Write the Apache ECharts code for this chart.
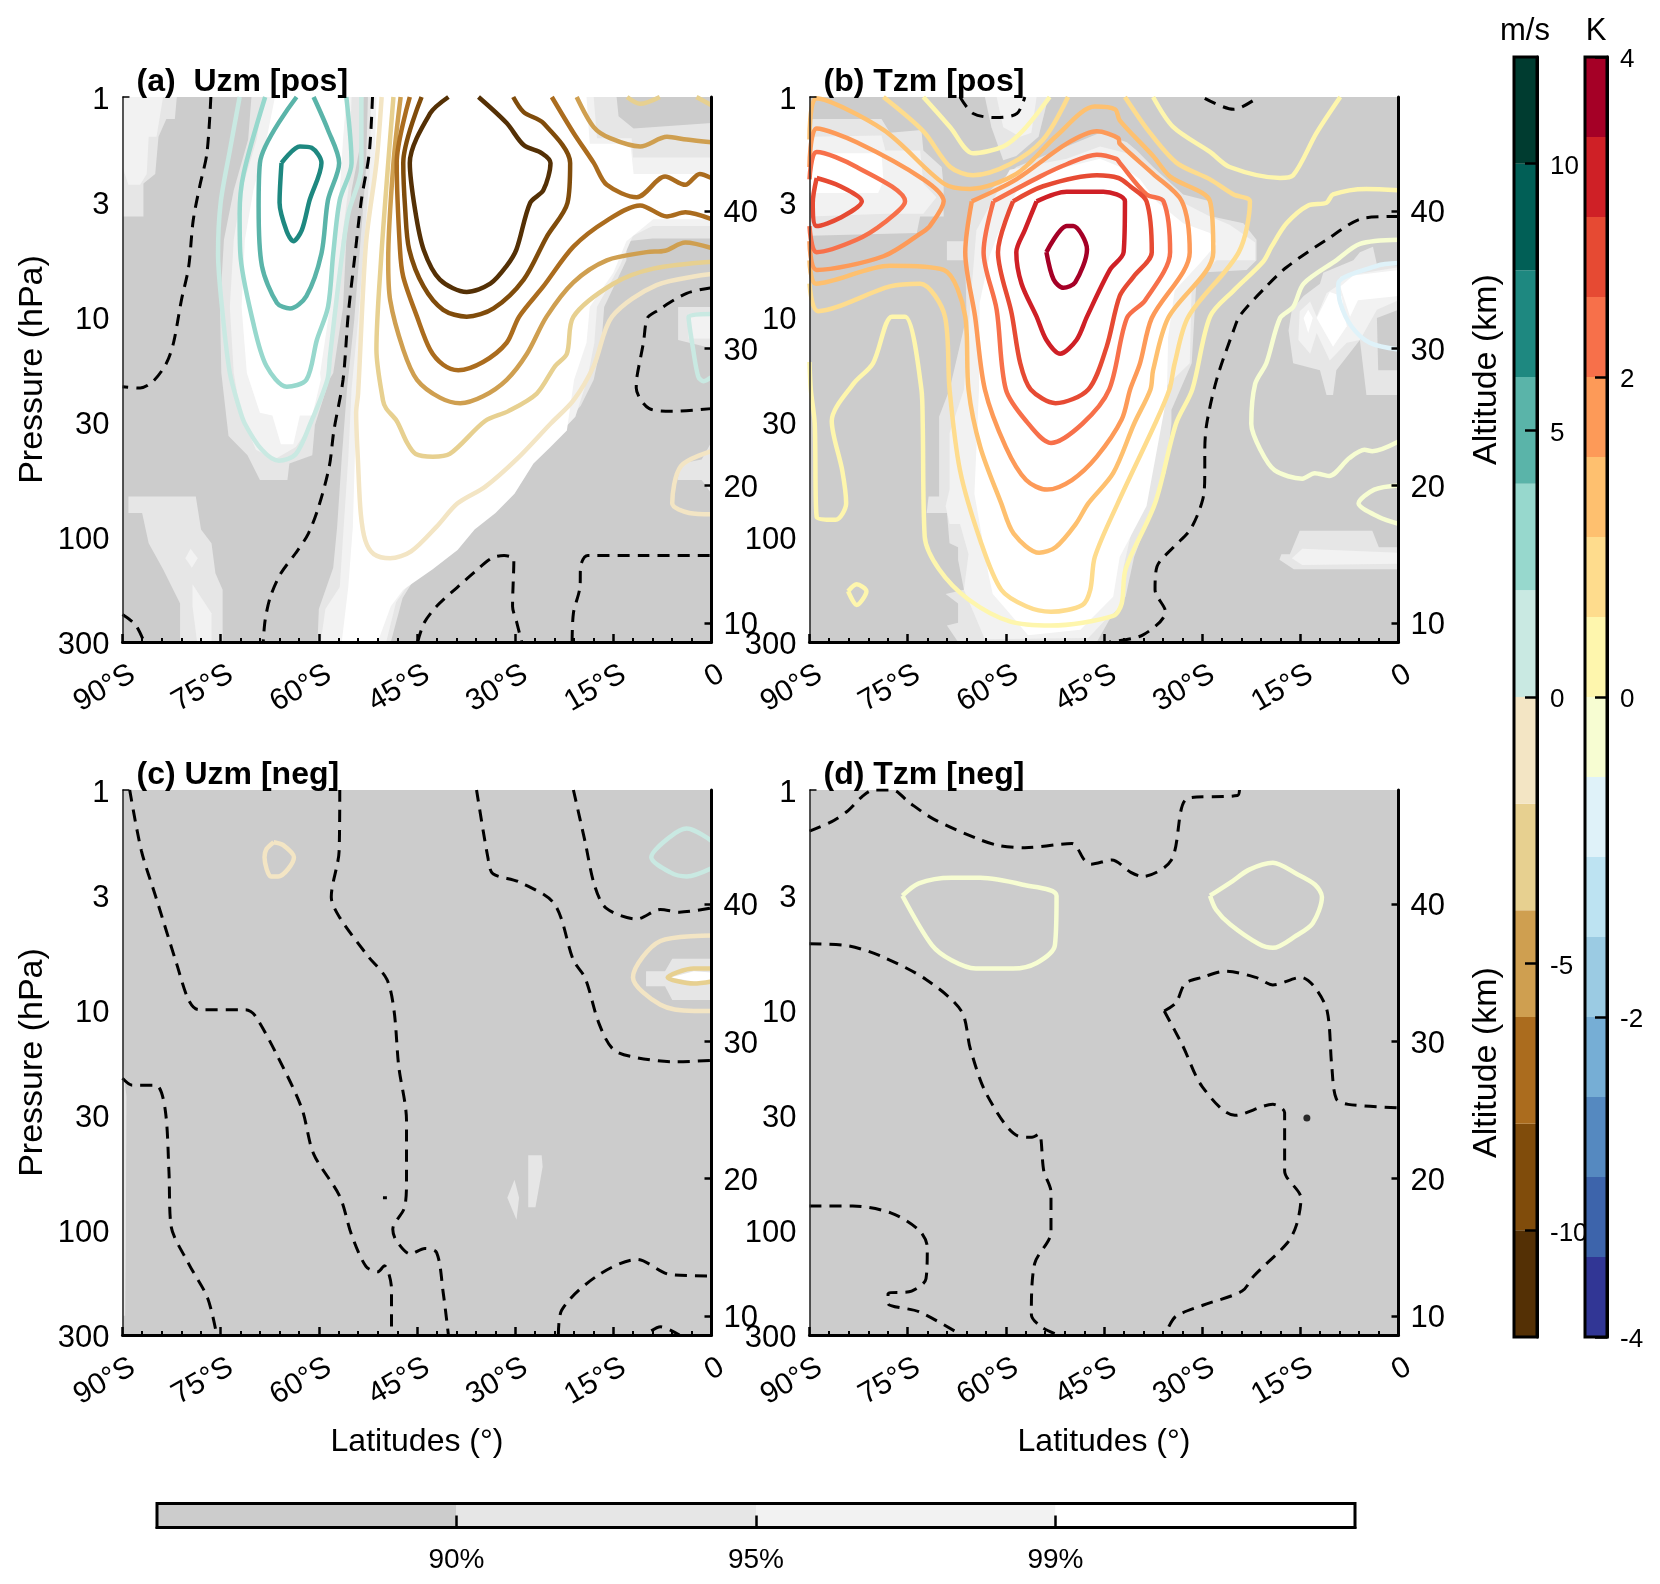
<!DOCTYPE html>
<html><head><meta charset="utf-8">
<style>html,body{margin:0;padding:0;background:#fff}#c{width:1660px;height:1584px}</style>
<script src="https://cdn.jsdelivr.net/npm/echarts@6/dist/echarts.min.js"></script>
</head><body><div id="c"></div>
<script>
// ---------- scales and tick labels ----------
const pressureTicks=[1,3,10,30,100,300];
const altitudeTicks=[10,20,30,40];
const latTickStep=15;
const windBounds=[-12,-10,-8,-6,-4,-2,0,2,4,6,8,10,12];
const windColors=['#543005','#804c0b','#ab6c1e','#cf9f50','#e7d090','#f3e5c4','#c9e9e2','#97d8cd','#5ab4a9','#1e8880','#015f56','#003c30'];
const windTicks=[-10,-5,0,5,10];
const tempBounds=[-4,-3.5,-3,-2.5,-2,-1.5,-1,-0.5,0,0.5,1,1.5,2,2.5,3,3.5,4];
const tempColors=['#313695','#3d64ab','#5589c0','#76aed5','#9bcbe3','#bde3f2','#dff2f9','#f7fdd2','#fef6ad','#fedc8d','#fec06f','#fd9a58','#f7704a','#e64a33','#cf2026','#a50026'];
const tempTicks=[-4,-2,0,2,4];
const sigColors=['#cccccc','#e6e6e6','#f2f2f2','#ffffff'];
const sigLabels=['90%','95%','99%'];

// ---------- panel (a) contours [lat, km] ----------
const aZero1=[[-76.5,48.3],[-77.1,44.2],[-78.2,41.8],[-79.2,39.3],[-79.9,35.9],[-81,33.5],[-82.2,30.4],[-83.3,28.9],[-85.3,27.6],[-87.3,27.1],[-90,27.2]];
const aZero2=[[-51.8,48.3],[-52.3,44.2],[-53.5,40.8],[-54.5,36.7],[-55.5,32.5],[-56.3,27.7],[-57.7,24],[-58.4,21.4],[-60,18.5],[-61.6,16.5],[-63.5,15.1],[-65.8,13.6],[-67.4,11.9],[-68.2,10.2],[-68.5,8.6]];
const aZero3=[[-90,10.6],[-88,9.85],[-86.7,8.6]];
const aZero4=[[-44.9,8.6],[-43.9,10],[-42,11.2],[-38.8,12.6],[-36.2,13.7],[-33.6,14.7],[-31.7,14.9],[-30.2,14.6],[-30.4,11.2],[-29.8,10.1],[-29,8.6]];
const aZero5=[[-21.3,8.6],[-21.1,10.7],[-20.1,12.6],[-20,14.1],[-18.9,14.9],[-9.9,14.9],[0,14.9]];
const aZero6=[[0,34.4],[-3.8,34],[-8.4,32.7],[-9.8,32.2],[-10.4,30.4],[-11.4,27.9],[-11.5,27.1],[-9.5,25.6],[-6,25.4],[0,25.6]];
const aPos1=[[-72.1,48.3],[-73.6,44.4],[-75,40.6],[-75.4,36.9],[-74.7,32.5],[-73.6,28.2],[-72.2,25.7],[-71.3,24.5],[-68.7,22.6],[-66.1,21.8],[-63.5,22.3],[-61.3,24.5],[-58.7,27.7],[-58.3,29.4],[-56.8,35.5],[-55.5,39.8],[-53.5,43.2],[-53.5,48.3]];
const aPos1b=[[0,32.5],[-3.5,32.3],[-2.8,29.9],[-2,27.9],[-1.2,27.6],[0,27.9]];
const aPos3=[[-68.2,48.3],[-71.5,42.7],[-72.1,39.8],[-72,36.9],[-70,31.8],[-68,28.7],[-64.9,27.2],[-61.9,27.7],[-60.3,30.6],[-58.6,33],[-57.8,36.9],[-56.8,40.8],[-55,43.5],[-55.8,48.3]];
const aPos5=[[-63.4,48.3],[-69,43.5],[-69.2,40.3],[-68.7,36],[-66.4,33.3],[-64.4,32.9],[-61.9,33.8],[-59.6,36.9],[-58.6,40.8],[-56.9,43.5],[-58.6,45.9],[-60.8,48.3]];
const aPos7=[[-65.7,43.5],[-62.9,44.7],[-61.1,44.6],[-59.6,43.5],[-61.4,40.8],[-62.6,38.6],[-63.9,37.8],[-64.9,38.5],[-66,40.6],[-65.7,43.5]];
const aNeg11=[[-40.2,48.3],[-43,47.1],[-46.1,43.5],[-45.3,40.1],[-44,37.2],[-41.5,35],[-37.4,34.1],[-33.8,34.7],[-31.3,36],[-29.8,37.2],[-27.7,40.6],[-25.7,41.5],[-24.6,43.5],[-25.9,44.2],[-28.7,44.8],[-31.3,46.4],[-35.6,48.3]];
const aNeg9=[[-44.3,48.3],[-47.1,43.5],[-46.8,40.1],[-46.2,37.2],[-44,34.5],[-41,32.8],[-37.4,32.3],[-33.3,32.9],[-28.7,35],[-25.2,38.1],[-22,40.6],[-21.6,43.5],[-25.7,46.4],[-28.7,47.2],[-30.3,48.3]];
const aNeg7a=[[-46.1,48.3],[-48.1,43.5],[-47.6,37.2],[-47.1,35.2],[-45,32.3],[-43,29.9],[-41,28.8],[-38.7,28.4],[-34.9,29],[-31.3,30.4],[-29.4,32.3],[-25.7,34.5],[-21.1,37.4],[-16,39.3],[-10.9,40.4],[-6.8,39.6],[-4,39.9],[0,39.4]];
const aNeg7b=[[-24.4,48.3],[-21.1,45.7],[-18,43.5],[-16,41.9],[-11.4,41],[-7.1,42.5],[-4,41.9],[-1.8,42.7],[0,42.4]];
const aNeg5a=[[-47.5,48.3],[-48.6,43.5],[-49.4,36.4],[-49.1,33.5],[-47.1,29.9],[-45,27.7],[-41.5,26.4],[-38.4,26],[-34.9,26.5],[-31.3,27.7],[-28.2,29.6],[-25.2,32.3],[-21.1,34.8],[-16,36.4],[-9.9,37],[-7.1,37.1],[-4,37.7],[0,37.3]];
const aNeg5b=[[-20.6,48.3],[-18,46.1],[-15.5,45.3],[-10.9,44.7],[-6.8,45.4],[-3.8,45.2],[0,45]];
const aNeg3a=[[-48.6,48.3],[-49.4,43.5],[-50.5,36.4],[-51.2,29.9],[-50.2,26.2],[-49.7,25.6],[-48.1,24.7],[-46.5,23.1],[-45.2,22.3],[-42.6,22.1],[-40,22.3],[-34.6,24.7],[-31.1,25.4],[-26.7,26.7],[-23.9,28.7],[-22.1,29.6],[-21.1,32.3],[-15,34.7],[-8.9,35.8],[0,36.3]];
const aNeg3b=[[-12.9,48.3],[-10.9,47.8],[-7.9,48.3]];
const aNeg3c=[[-2.3,48.3],[0,47.7]];
const aNeg1a=[[-50.4,48.3],[-51.2,43.5],[-52.8,37.6],[-54,26.7],[-54.3,25.3],[-54,21.6],[-53.6,18],[-52.9,16],[-51.6,15],[-49.1,14.7],[-45.9,15.2],[-42,17],[-38.8,18.7],[-34.6,19.9],[-29.8,21.9],[-24.6,24.5],[-21.1,26.2],[-18,28.7],[-15.2,32.3],[-8.4,34.6],[0,35.4]];
const aNeg1b=[[0,22.5],[-4.7,21.4],[-6,18.7],[-3.4,18],[0,17.9]];

// ---------- panel (a) significance regions ----------
const aSig90Main=[[-52.5,48.3],[-52.8,43],[-53.6,38],[-54.6,32],[-55.7,27],[-56.5,22],[-57.2,17],[-57.8,14],[-60,11],[-60.2,8.6],[-49,8.6],[-47.2,11.8],[-45,13.5],[-40.5,15.1],[-36.8,16.6],[-34,18.2],[-31,19.6],[-28,21.2],[-25.2,23],[-22.6,24.4],[-20,25.8],[-18,27.7],[-16.8,30.4],[-16.4,33],[-13,36.4],[-13,37.8],[-9,38],[0,38],[0,46.4],[-11.9,46],[-14.2,46.9],[-14.5,48.3]];
const aSig95Main=[[-52,48.3],[-52.2,43],[-53,38],[-54,32],[-55,27],[-55.5,22],[-56.2,17],[-56.8,12.6],[-59,11],[-59.7,8.6],[-49.7,8.6],[-48.2,11.5],[-46,13],[-41.5,14.6],[-37.8,16],[-35,17.5],[-32,18.8],[-29,20.4],[-26.2,22.4],[-23.6,23.6],[-20.8,25],[-19,27.7],[-17.9,30.4],[-17.5,33],[-14,36],[-12,38.2],[-9,38.9],[0,38.9],[0,43.9],[-12,43.9],[-12.2,45.3],[-17.5,45.3],[-18,48.3]];
const aSig99Main=[[-51.2,48.3],[-51.5,43],[-52.5,38],[-53.5,32],[-54,27.7],[-54.5,22],[-54.8,17],[-55.5,12.6],[-56.5,8.6],[-51,8.6],[-49,11.2],[-47.1,12.4],[-42.6,13.9],[-38.8,15.3],[-36.2,16.8],[-33,18],[-30.1,19.4],[-27.2,21.6],[-24.6,22.8],[-22.1,24],[-21,27.7],[-19.1,30.4],[-18.6,33],[-15,35.5],[-13,37.8],[-8.9,39.4],[0,39.4],[0,42.7],[-11.9,42.7],[-12.4,44.9],[-18.6,44.9],[-19.1,48.3]];
const aSig90Jet=[[-70.3,48.3],[-70.8,45.2],[-73,41.5],[-74.5,37.9],[-75.1,33],[-74.9,28.2],[-73.8,23.6],[-70.9,22.2],[-69,20.4],[-64.8,20.4],[-64.5,21.6],[-61,22.2],[-60.6,24.4],[-58.4,27.7],[-57.8,28.2],[-56.3,33],[-55.8,37.9],[-55,41.5],[-53.5,45.2],[-53.2,48.3]];
const aSig95Jet=[[-68.5,48.3],[-69.5,45.2],[-71.8,41.5],[-73,37.9],[-73.6,33],[-73,28.2],[-71.9,25.1],[-69.6,22.6],[-66.8,21.9],[-63.5,22.8],[-61.3,24.4],[-58.7,27.7],[-58.5,28.2],[-57.3,33],[-56.5,37.9],[-55.5,41.5],[-55.2,45.2],[-55,48.3]];
const aSig99Jet=[[-66.7,48.3],[-68,45.2],[-70,41.5],[-71.3,37.9],[-71.8,33],[-71,28.2],[-69,25.3],[-67.1,25.1],[-65.8,23],[-63.9,23],[-62.9,25.1],[-61,25.1],[-59.7,27.7],[-59.8,28.2],[-58.3,33],[-57.8,37.9],[-56.8,41.5],[-56.3,45.2],[-55.8,48.3]];
const aSig90Corner=[[-90,48.3],[-81.7,48.3],[-82,46.7],[-83.3,46.7],[-84.5,45.4],[-85,42.7],[-86.8,42],[-86.8,39.6],[-90,39.6]];
const aSig95Corner=[[-90,48.3],[-83.8,48.3],[-84.8,45.4],[-86,45.4],[-86.3,42.7],[-87.3,41.9],[-89.1,41.9],[-90,43.2]];
const aSig90Low=[[-89.1,19.2],[-78.8,19.2],[-78,16.8],[-76.4,15.8],[-75.8,13.6],[-74.7,12.4],[-74.7,8.6],[-81.2,8.6],[-81.2,11.4],[-83.8,13.9],[-86,15.8],[-87,18],[-89.1,18]];
const aSig95Low=[[-79.3,12.8],[-76.4,10.7],[-76.4,8.6],[-78.6,8.6],[-79.3,11.2]];
const aSig95Dot=[[-80.4,14.7],[-79.6,15.4],[-78.5,14.7],[-79.4,14]];
const aSig90Edge1=[[-5.1,33],[0,33],[0,30],[-5.1,30.6]];
const aSig95Edge1=[[-3.5,32.5],[0,32.5],[0,30.7],[-3.5,30.7]];
const aSig90Edge2=[[-4.7,21.6],[-1.5,21.9],[-0.2,23],[0,23],[0,19.4],[-1.5,20.4],[-5.2,20.4]];

// ---------- panel (b) contours ----------
const bT375=[[-53.8,37],[-50.7,38.9],[-49.7,38.9],[-47.6,37.2],[-49.4,34.8],[-51.2,34.4],[-52.7,35],[-53.8,37]];
const bT325=[[-55.3,40.7],[-50.7,41.4],[-45.1,41.4],[-41.8,40.7],[-42,37],[-44.1,35.7],[-47.6,32.3],[-49.2,30.6],[-51.7,29.6],[-53.8,30.6],[-55.3,32.3],[-57.6,34.7],[-58.4,37],[-57.1,38.6],[-55.3,40.7]];
const bT275=[[-58.9,40.7],[-54.3,41.8],[-46.1,42.6],[-42.8,42.4],[-41,41.8],[-38.5,40.7],[-37.7,37],[-40.5,35.2],[-42.6,33.8],[-44.6,30.1],[-47.4,27],[-52.4,26],[-56.2,27],[-57.8,28.9],[-59.1,32.5],[-61.2,37],[-58.9,40.7]];
const bT275Lobe=[[-88.9,42.4],[-85.3,41.8],[-82,40.7],[-85.3,39.5],[-88.9,38.9],[-89.5,40.6],[-88.9,42.4]];
const bT225=[[-61.9,40.7],[-54.8,42.5],[-50.7,43.4],[-46.1,44.1],[-43.1,43.8],[-42.6,43.5],[-38.5,41.2],[-35.9,40.7],[-34.9,37],[-38.7,33.5],[-41.5,32.2],[-44.2,27],[-48.3,24.5],[-53.1,23.1],[-56.9,24.7],[-60,27],[-61.4,32.8],[-63.4,37],[-61.9,40.7]];
const bT225Lobe=[[-90,42.3],[-88.9,44.3],[-82.8,43.2],[-75.4,40.7],[-78.7,39.1],[-82.8,37.9],[-88.9,37],[-90,38.9]];
const bT175=[[-65.2,40.7],[-58.4,42.3],[-50.7,44.9],[-46.1,45.8],[-42.8,45.3],[-42.6,44.9],[-37.5,42.7],[-33.1,40.7],[-31.9,37],[-37.7,32.2],[-39.5,28.9],[-41,27],[-42.3,24.8],[-46.1,22.1],[-49.9,20.4],[-53.7,19.7],[-56.9,20.4],[-60,22.8],[-63.2,27],[-64.7,32.3],[-66.2,37],[-65.2,40.7]];
const bT175Lobe=[[-90,43.2],[-88.9,46],[-82.8,45],[-72.6,42.3],[-69.5,40.7],[-71.6,38.9],[-72.6,38.5],[-78.7,36.7],[-88.9,35.7],[-90,37.8]];
const bT125=[[-90,45.2],[-89,48.2],[-78.7,45.9],[-69.5,42],[-65.5,41.6],[-58.4,42.7],[-52.2,45.5],[-46.4,47.6],[-43.3,47.4],[-42.6,46.6],[-37.5,44],[-34.9,42.5],[-28.8,40.7],[-28.3,37],[-35.2,32.2],[-37.5,28.4],[-37.9,27],[-40.4,24.5],[-43.6,20.9],[-47.4,18.7],[-49.3,17.2],[-52.4,15.5],[-54.9,15.1],[-58.8,16.5],[-60.7,18.7],[-63.9,22.8],[-65.7,27],[-66.2,32.3],[-69.5,35.7],[-77.7,36],[-89,34.7],[-90,36.4]];
const bT075a=[[-78.7,48.3],[-72.6,45.8],[-68.5,43.2],[-65,42.6],[-59.4,43.4],[-54.3,45.2],[-50.5,48.3]];
const bT075b=[[-41.8,48.3],[-38,45.7],[-33.9,43.5],[-28.8,42.3],[-25.2,41.2],[-22.7,40.7],[-24.4,37],[-32.1,32.3],[-34.2,28.9],[-35,27],[-37.2,24.5],[-42.9,18.7],[-46.4,14.8],[-47.1,12.4],[-48.3,11.3],[-53.1,10.8],[-56.9,11.2],[-60.7,12.4],[-63.9,16],[-67,21.1],[-68.6,27],[-69.3,32.3],[-73.1,34.7],[-77.7,34.5],[-88.7,32.7],[-90,34.7]];
const bT025a=[[-72.6,48.3],[-68.5,46.1],[-65,44.2],[-60.4,44.7],[-57.3,45.9],[-53.3,48.3]];
const bT025b=[[-37.5,48.3],[-34.4,46.1],[-28.8,44.3],[-25.8,43.2],[-18.1,42.4],[-16.1,42.6],[-12.5,45.7],[-8.9,48.3]];
const bT025c=[[0,41.5],[-4.9,41.6],[-10,41.2],[-11,40.6],[-13.8,40.4],[-17.1,39.1],[-19.4,37.4],[-20.7,36.3],[-25.2,34.2],[-28.8,32.3],[-31.5,27],[-34,24.5],[-37.2,18.7],[-41.7,13.9],[-42.3,11.4],[-43.6,10.5],[-53.1,9.8],[-59.4,10.1],[-65.7,11.7],[-70.2,13.9],[-72.4,16.3],[-72.7,24.5],[-72.9,27],[-75.4,32.3],[-77.4,32.3],[-80.3,28.9],[-83.3,27.4],[-86.6,24.7],[-85,21.1],[-84.4,18.7],[-86,17.5],[-88.9,17.7],[-89.2,24.5],[-89.8,27],[-90,29]];
const bT025d=[[-84.1,12.3],[-82.8,12.8],[-81.3,12.3],[-82.8,11.3],[-84.1,12.3]];
const bTm025a=[[0,37.9],[-5.9,37.6],[-9.5,36.4],[-14.5,34.7],[-16.1,33],[-18.1,32.2],[-20.2,28.9],[-21.9,27.4],[-22.5,24.5],[-21.1,22.6],[-18.9,21.1],[-14.7,20.5],[-12.8,20.9],[-10.6,20.7],[-7.5,22],[-5.2,22.6],[-4,22.5],[0,23.2]];
const bTm025b=[[0,20],[-3.7,19.7],[-6.1,18.7],[-3,17.7],[0,17.2]];
const bTm075=[[0,36.2],[-3.3,36],[-9.2,34.7],[-8.9,33.3],[-7.2,31.6],[-4.4,30.4],[0,29.9]];
const bZero1=[[-67,48.3],[-65,47.1],[-61.4,46.8],[-58.3,47.1],[-57.1,48.3]];
const bZero2=[[-29.6,48.2],[-25.2,47.4],[-21.4,48.3]];
const bZero3=[[0,39.6],[-5.1,39.5],[-11,37.9],[-17.1,35.9],[-20.2,34.5],[-24.2,32.4],[-25.2,31.3],[-27.8,27.7],[-29.3,24.5],[-29.6,22.6],[-29.6,20.9],[-29.9,19],[-31.8,16.8],[-34.4,15.5],[-36.9,14.1],[-37.2,12.4],[-35.6,10.8],[-39.1,9.1],[-44.2,8.6]];

// ---------- panel (b) significance regions ----------
const bSig90Top=[[-63.2,48.3],[-62.2,46.1],[-60.4,43.7],[-58.4,44],[-55,45.4],[-53.5,48.3]];
const bSig95Top=[[-61.4,48.3],[-60.4,46.1],[-57.8,45.4],[-56.1,45.7],[-55.3,48.3]];
const bSig90Lobe=[[-90,46.7],[-79,46.7],[-77.7,45.7],[-72.9,45.9],[-72.6,44.4],[-69.8,43.2],[-69.5,41.8],[-69.5,39.6],[-73.1,39.6],[-73.6,38.4],[-90,38.2]];
const bSig95Lobe=[[-90,45.4],[-79,45.5],[-78.4,44.4],[-73.1,44.4],[-72.6,42],[-70.6,41],[-72.6,39.8],[-78.2,39.8],[-90,39.6]];
const bSig99Lobe=[[-90,44.2],[-79,44.2],[-78.7,42.2],[-79.5,41.3],[-90,41.3]];
const bSig90Main=[[-65.2,40.7],[-62.4,41.5],[-58.4,43.2],[-50.7,44.7],[-45.6,45.7],[-41.5,45],[-40,44.4],[-37.5,43.2],[-32.9,41.2],[-28.8,40.7],[-28.5,39.6],[-23.7,39.1],[-21.7,37.9],[-21.7,36.4],[-23.2,35.7],[-30.8,35.5],[-31.6,28.9],[-34.7,25.5],[-34.7,24.5],[-35.6,20.9],[-40.4,14.8],[-41.7,11.9],[-44.2,10.2],[-46.1,8.6],[-67.3,8.6],[-69,9.8],[-67.3,10],[-67.3,11.4],[-69.2,12.1],[-66.4,12.4],[-67.3,14.6],[-67.3,15.5],[-68.6,15.8],[-69,18],[-72.1,18],[-71.8,19.2],[-70.2,19.2],[-70.2,25],[-68.6,27],[-66,32.3],[-66.2,36.4],[-69,36.4],[-69,37.8],[-66.2,37.8]];
const bSig95Main=[[-62.9,40],[-59.4,43],[-50.7,43.8],[-45.6,44.7],[-41.5,44.2],[-39.5,43.5],[-36,41.9],[-32.9,40.6],[-28.8,39.6],[-25.8,39],[-21.9,37.7],[-21.9,36.4],[-27.8,36.4],[-31.6,34.5],[-31.9,28.9],[-36,27],[-37.6,23.3],[-42,14.1],[-42.3,11.2],[-44.8,10.2],[-47.4,8.9],[-63.2,8.8],[-66.4,12.4],[-65.7,15],[-67,17.2],[-68.6,17.2],[-69.2,18.5],[-68.6,19.7],[-68.6,23.8],[-66.4,27],[-66,29.6],[-65.2,34.5],[-64.5,38.6]];
const bSig99Main=[[-60.4,39.3],[-57.8,42],[-50.7,43.2],[-45.6,43.8],[-41.5,43],[-39.5,42.3],[-37,40.7],[-32.9,39.1],[-28.8,38.4],[-27.8,37.6],[-30.3,36.2],[-34.2,34.2],[-35.2,30.8],[-35.4,26.5],[-38.5,18.5],[-42.6,14.8],[-43.6,11.9],[-48.6,9.5],[-56.6,9.1],[-60,11],[-62,12.1],[-62.6,13.4],[-64.8,19.4],[-64.1,27],[-64,33.3],[-62.5,36.7]];
const bSig90Right=[[-16.3,32.8],[-14.5,33.8],[-12,34.7],[-11.5,35.5],[-6.9,36.4],[-5.9,37],[-3.9,37.4],[-3.3,36.1],[0,36],[0,32.8],[-3.3,32.2],[-3.1,28.4],[0,28.4],[0,26.6],[-4.9,26.6],[-5.9,30.6],[-9.5,28.4],[-10,26.6],[-11,26.6],[-12,28.4],[-16.1,28.9],[-16.8,31.3]];
const bSig95Right=[[-15.1,32.7],[-13.5,33.4],[-12.5,32.3],[-11,34],[-9.5,34.5],[-8.9,35.2],[0,35.9],[0,33.5],[-3.3,32.8],[-5.9,30.6],[-7.9,30.4],[-10.5,29.1],[-12.5,31.1],[-13.5,29.6],[-15.3,30.6]];
const bSig99Right1=[[-14.5,32.2],[-13.8,32.8],[-13.1,32.2],[-13.8,31.1]];
const bSig99Right2=[[-12.5,32.2],[-10.5,34.1],[-8.7,33.8],[-7.9,31.6],[-10,30.1],[-11.2,31.1]];
const bSig99Right3=[[-8.9,34.5],[-6.9,35.3],[0,35.7],[0,33.8],[-6.2,33.5],[-7.4,32.3]];
const bSig90Low=[[-15.1,16.7],[-4,16.7],[-3,15.5],[0,15.5],[0,13.9],[-16,13.9],[-18.2,14.6],[-17.9,15],[-16.6,15]];
const bSig95Low=[[-16.3,14.7],[-14.7,15.4],[0,15.1],[0,14.3],[-14.7,14.2]];

// ---------- panel (c) ----------
const cZero1=[[-88.9,48.3],[-87.1,43.85],[-84.9,40.5],[-81.7,35.6],[-79.9,33],[-78.4,32.3],[-71.2,32.3],[-69.8,31.9],[-66.2,28.8],[-62.6,25.1],[-60.8,21.8],[-56.8,18.7],[-55,15.9],[-52.8,13.6],[-51,13.2],[-50,13.65],[-48.9,12],[-48.9,8.6]];
const cZero2=[[-90,27.3],[-88.5,26.8],[-84.9,26.8],[-83.5,25.1],[-82.9,20.5],[-82.6,16.6],[-79.9,13.8],[-77,11.3],[-75.6,8.6]];
const cZero3=[[-56.8,48.3],[-56.9,43.85],[-58.1,40.5],[-56.8,39],[-52.5,36.2],[-49.6,34.5],[-48.5,32.2],[-47.8,28.2],[-46.6,24.2],[-46.6,19.9],[-46.9,17.9],[-48.7,16.3],[-48.2,15.5],[-46,14.5],[-43.8,14.9],[-42,14.6],[-41,11.7],[-40.2,8.6]];
const cZero4=[[-35.9,48.3],[-34.1,43.2],[-33.4,42.2],[-29.4,41.6],[-24,40],[-21.1,35.9],[-19.3,34.6],[-17.2,31.3],[-15,29.4],[-11.4,28.8],[-5.6,28.5],[0,28.6]];
const cZero5=[[-21.1,48.3],[-19.3,44.5],[-17.9,41.4],[-16.1,39.7],[-11.4,38.9],[-7.8,39.6],[-4.9,39.4],[0,39.7]];
const cZero6=[[-23.4,8.6],[-22.9,10.4],[-17.5,12.9],[-11.4,14.1],[-6.3,13],[0,12.9]];
const cZero7=[[-9.2,8.9],[-7.8,9.2],[-4.9,8.6]];
const cZero8=[[-50.2,18.6],[-49.6,18.6]];
const cNeg1a=[[-66.9,44.5],[-65.5,44.3],[-63.8,43.4],[-66.2,42],[-67.3,42],[-68.3,43.4],[-68,44],[-66.9,44.5]];
const cPos1=[[0,44.6],[-3.8,45.5],[-6.3,44.9],[-9.2,43.4],[-6.3,42.3],[-3.8,42],[0,42.6]];
const cNeg1b=[[0,37.7],[-7.8,37.3],[-12,34.65],[-7.8,32.65],[-2.7,32.2],[0,32.2]];
const cNeg3=[[0,35.3],[-2.7,35.3],[-6.7,34.65],[-2.7,34.2],[0,34.35]];
const cSig90a=[[-10,35.1],[-7.1,35.1],[-6,36],[0,36],[0,33],[-6,33],[-7.1,34],[-10,34]];
const cSig99a=[[-6.3,34.65],[-2.7,35.1],[0,35],[0,34.4],[-2.7,34.35]];
const cSig90b=[[-28,21.7],[-25.95,21.7],[-25.8,20.85],[-26.9,17.9],[-28,17.9]];
const cSig90c=[[-30.1,19.9],[-29.4,18.6],[-29.8,17],[-31.2,18.6]];
const cSig90d=[[-90,28.5],[-89.4,26],[-89.5,15],[-89.6,10],[-90,10]];

// ---------- panel (d) ----------
const dZero1=[[-90,45.3],[-86.6,46],[-84.1,46.8],[-82,47.8],[-80.2,48.3],[-77.3,48.3],[-74.8,47.4],[-71.1,46.2],[-64.6,44.8],[-61,44.25],[-57.1,44.1],[-49.9,44.4],[-48,43.2],[-47,42.9],[-43.8,43.2],[-40.9,42.3],[-39.1,42],[-34.7,43.2],[-32.2,47.7],[-24.6,47.9],[-24.3,48.3]];
const dZero2=[[-90,37.1],[-84.1,36.95],[-79.1,36.2],[-72.2,34.5],[-66.8,32.2],[-65.4,29.4],[-62.9,26.1],[-58.2,23.1],[-56,23],[-54.9,23.25],[-54.2,20.55],[-53.1,19],[-53.1,16.1],[-55.6,13.8],[-56.1,10.1],[-54.6,9.2],[-52,8.6]];
const dZero3=[[-90,18],[-83.4,18],[-77.6,17.5],[-73.3,16.25],[-72,15],[-72.2,12.7],[-74.4,11.8],[-78,11.6],[-78,10.9],[-73.3,10.3],[-66.8,8.6]];
const dZero4=[[-35.8,32.2],[-34,32.8],[-32.6,34.2],[-30,34.65],[-26.4,35.1],[-21.8,34.65],[-19.2,34.1],[-14.9,34.65],[-12.75,33.9],[-10.9,32.2],[-10.2,28.2],[-9.5,25.8],[-7.7,25.4],[0,25.15]];
const dZero5=[[-35.8,32.2],[-33,29.7],[-30,26.7],[-25,24.6],[-19.2,25.4],[-17.4,24.8],[-17.4,20.55],[-14.9,18.55],[-15.6,16.6],[-17,15.3],[-22.1,12.9],[-23.9,11.8],[-30,10.75],[-34,9.97],[-35.1,9.2]];
const dZeroDot=[[-14,24.4]];
const dTm025a=[[-75.8,40.6],[-73.3,41.5],[-68.3,41.9],[-63.9,41.9],[-57.4,41.4],[-52.25,40.6],[-52.5,37],[-55.3,35.7],[-58.9,35.3],[-64.6,35.3],[-68.3,35.9],[-71.3,37],[-75.8,40.6]];
const dTm025b=[[-28.8,40.6],[-25.7,41.55],[-22.8,42.5],[-19.2,43],[-15.6,42.2],[-12.75,41.4],[-11.7,40.5],[-13.1,38.6],[-15.6,37.7],[-19.2,36.8],[-21.4,37.1],[-25.7,38.5],[-27.9,39.6],[-28.8,40.6]];

// ---------- panels ----------
const panelTitles=['(a)  Uzm [pos]','(b) Tzm [pos]','(c) Uzm [neg]','(d) Tzm [neg]'];
const panelContours=[
 [[-1,aNeg1a],[-1,aNeg1b],[-3,aNeg3a],[-3,aNeg3b],[-3,aNeg3c],[-5,aNeg5a],[-5,aNeg5b],[-7,aNeg7a],[-7,aNeg7b],[-9,aNeg9],[-11,aNeg11],[1,aPos1],[1,aPos1b],[3,aPos3],[5,aPos5],[7,aPos7]],
 [[0.25,bT025a],[0.25,bT025b],[0.25,bT025c],[0.25,bT025d],[0.75,bT075a],[0.75,bT075b],[1.25,bT125],[1.75,bT175],[1.75,bT175Lobe],[2.25,bT225],[2.25,bT225Lobe],[2.75,bT275],[2.75,bT275Lobe],[3.25,bT325],[3.75,bT375],[-0.25,bTm025a],[-0.25,bTm025b],[-0.75,bTm075]],
 [[-1,cNeg1a],[-1,cNeg1b],[-3,cNeg3],[1,cPos1]],
 [[-0.25,dTm025a],[-0.25,dTm025b]]
];
const panelZero=[[aZero1,aZero2,aZero3,aZero4,aZero5,aZero6],[bZero1,bZero2,bZero3],[cZero1,cZero2,cZero3,cZero4,cZero5,cZero6,cZero7,cZero8],[dZero1,dZero2,dZero3,dZero4,dZero5]];
const panelSig=[
 [[aSig90Main,aSig90Jet,aSig90Corner,aSig90Low,aSig90Edge1,aSig90Edge2],[aSig95Main,aSig95Jet,aSig95Corner,aSig95Low,aSig95Dot,aSig95Edge1],[aSig99Main,aSig99Jet]],
 [[bSig90Top,bSig90Lobe,bSig90Main,bSig90Right,bSig90Low],[bSig95Top,bSig95Lobe,bSig95Main,bSig95Right,bSig95Low],[bSig99Lobe,bSig99Main,bSig99Right1,bSig99Right2,bSig99Right3]],
 [[cSig90a,cSig90b,cSig90c,cSig90d],[],[cSig99a]],
 [[],[],[]]
];
const panelBounds=[windBounds,tempBounds,windBounds,tempBounds];
const panelColors=[windColors,tempColors,windColors,tempColors];

// ---------- layout ----------
const FONT='"Liberation Sans",Arial,sans-serif';
const panelBox=[[122.5,97],[809.5,97],[122.5,790],[809.5,790]];
const bandColor=(b,c,v)=>{for(let i=0;i<c.length;i++){if(v>=b[i]&&v<b[i+1])return c[i];}return c[c.length-1];};
const grid=[],xAxis=[],yAxis=[],series=[],title=[];
const lineBase={type:'line',showSymbol:false,symbol:'none',silent:true,animation:false,clip:true,smooth:0.3};
// shift a label 3px below its tick: text top = tick + padding, line middle = top + lineHeight/2
const lowered=(size)=>({verticalAlign:'top',lineHeight:size,padding:[3-size/2,0,0,0]});

panelBox.forEach((box,i)=>{
  grid.push({left:box[0],top:box[1],width:589,height:545,show:true,backgroundColor:sigColors[0],borderWidth:0});
  xAxis.push({type:'value',gridIndex:i,min:-90,max:0,interval:latTickStep,position:'bottom',z:6,
    name:i>=2?'Latitudes (°)':'',nameLocation:'middle',nameGap:91,nameTextStyle:{fontFamily:FONT,fontSize:32,color:'#000'},
    splitLine:{show:false},
    axisLine:{show:true,onZero:false,lineStyle:{color:'#000',width:3}},
    axisTick:{show:true,inside:true,length:8,lineStyle:{color:'#000',width:2.5}},
    minorTick:{show:true,splitNumber:5,length:4,lineStyle:{color:'#000',width:2}},
    axisLabel:{show:true,rotate:30,margin:36,padding:[0,-12,0,0],fontFamily:FONT,fontSize:30,color:'#000',showMinLabel:true,showMaxLabel:true,hideOverlap:false,
      formatter:v=>v===0?'0':Math.abs(v)+'°S'}});
  const ptk=pressureTicks.map(p=>Math.log10(p));
  yAxis.push({type:'value',gridIndex:i,position:'left',inverse:true,min:0,max:Math.log10(300),z:6,
    name:i%2===0?'Pressure (hPa)':'',nameLocation:'middle',nameGap:73,nameRotate:90,nameTextStyle:{fontFamily:FONT,fontSize:34,color:'#000'},
    splitLine:{show:false},
    axisLine:{show:true,onZero:false,lineStyle:{color:'#222',width:1.5}},
    axisTick:{show:true,inside:true,length:7,customValues:[0],lineStyle:{color:'#000',width:1.5}},
    axisLabel:Object.assign({show:true,margin:13,fontFamily:FONT,fontSize:31,color:'#000',customValues:ptk,hideOverlap:false,
      formatter:v=>String(Math.round(Math.pow(10,v)))},lowered(31))});
  yAxis.push({type:'value',gridIndex:i,position:'right',min:8.6,max:48.3,z:6,
    name:i%2===1?'Altitude (km)':'',nameLocation:'middle',nameGap:71,nameRotate:90,nameTextStyle:{fontFamily:FONT,fontSize:34,color:'#000'},
    splitLine:{show:false},
    axisLine:{show:true,onZero:false,lineStyle:{color:'#000',width:3}},
    axisTick:{show:true,inside:true,length:7,customValues:altitudeTicks,lineStyle:{color:'#000',width:2.5}},
    axisLabel:Object.assign({show:true,margin:12,fontFamily:FONT,fontSize:31,color:'#000',customValues:altitudeTicks,hideOverlap:false},lowered(31))});
  title.push({text:panelTitles[i],left:box[0]+14,top:box[1]-31,textStyle:{fontFamily:FONT,fontSize:32,fontWeight:'bold',color:'#000'},padding:0});
  // shaded significance
  panelSig[i].forEach((polys,k)=>{
    if(!polys.length)return;
    series.push({type:'custom',coordinateSystem:'cartesian2d',xAxisIndex:i,yAxisIndex:2*i+1,z:1+k*0.1,silent:true,animation:false,clip:true,
      data:polys.map((p,n)=>[p[0][0],p[0][1],n]),
      renderItem:(params,api)=>({type:'polygon',shape:{points:polys[params.dataIndex].map(q=>api.coord(q))},style:{fill:sigColors[k+1],stroke:null}})});
  });
  // contours
  panelContours[i].forEach(([lev,pts])=>{
    series.push(Object.assign({},lineBase,{xAxisIndex:i,yAxisIndex:2*i+1,z:3,data:pts,
      lineStyle:{color:bandColor(panelBounds[i],panelColors[i],lev),width:4.5,join:'round',cap:'butt'}}));
  });
  panelZero[i].forEach(pts=>{
    series.push(Object.assign({},lineBase,{xAxisIndex:i,yAxisIndex:2*i+1,z:4,data:pts,
      lineStyle:{color:'#000',width:3,type:[12,8],cap:'butt'}}));
  });
});
series.push({type:'scatter',xAxisIndex:3,yAxisIndex:7,z:4,silent:true,animation:false,symbol:'circle',symbolSize:7,itemStyle:{color:'#000'},data:dZeroDot});

// ---------- colour bars ----------
function addBar(left,top,w,h,bounds,colors,ticks,vertical,z,labels){
  const g=grid.length;
  grid.push({left,top,width:w,height:h,show:false});
  const main={type:'value',gridIndex:g,min:bounds[0],max:bounds[bounds.length-1],z:z+1,splitLine:{show:false},
    axisLine:{show:true,onZero:false,lineStyle:{color:'#000',width:3}},
    axisTick:{show:true,inside:true,length:12,customValues:ticks,lineStyle:{color:'#000',width:2.5}},
    axisLabel:Object.assign({show:true,margin:vertical?13:19,fontFamily:FONT,fontSize:vertical?26:28,color:'#000',customValues:ticks,hideOverlap:false,
      formatter:labels?(v=>labels[ticks.indexOf(v)]):(v=>String(v))},vertical?lowered(26):{})};
  const other={type:'value',gridIndex:g,min:0,max:1,show:false,splitLine:{show:false},axisLine:{onZero:false}};
  if(vertical){main.position='right';xAxis.push(other);yAxis.push(main);}
  else{main.position='bottom';xAxis.push(main);yAxis.push(other);}
  const xi=xAxis.length-1, yi=yAxis.length-1;
  const rect=(a,b)=>vertical?[[0,a],[1,b]]:[[a,0],[b,1]];
  const draw=(a,b,style,api)=>{const r=rect(a,b),p=api.coord(r[0]),q=api.coord(r[1]);
    return {type:'rect',shape:{x:Math.min(p[0],q[0]),y:Math.min(p[1],q[1]),width:Math.abs(q[0]-p[0]),height:Math.abs(q[1]-p[1])},style};};
  series.push({type:'custom',coordinateSystem:'cartesian2d',xAxisIndex:xi,yAxisIndex:yi,z,silent:true,animation:false,
    data:colors.map((c,n)=>vertical?[0,bounds[n],n]:[bounds[n],0,n]),
    renderItem:(params,api)=>draw(bounds[params.dataIndex],bounds[params.dataIndex+1],{fill:colors[params.dataIndex]},api)});
  series.push({type:'custom',coordinateSystem:'cartesian2d',xAxisIndex:xi,yAxisIndex:yi,z:z+0.5,silent:true,animation:false,
    data:vertical?[[0,bounds[0]]]:[[bounds[0],0]],
    renderItem:(params,api)=>draw(bounds[0],bounds[bounds.length-1],{fill:'none',stroke:'#000',lineWidth:3},api)});
}
addBar(1514,57,23,1280,windBounds,windColors,windTicks,true,10);
addBar(1585,57,22,1280,tempBounds,tempColors,tempTicks,true,20);
addBar(157,1503.5,1198,24,[0,1,2,3,4],sigColors,[1,2,3],false,10,sigLabels);

title.push({text:'m/s',left:1525,top:16,textAlign:'center',textStyle:{fontFamily:FONT,fontSize:31,fontWeight:'normal',color:'#000'},padding:0});
title.push({text:'K',left:1596,top:16,textAlign:'center',textStyle:{fontFamily:FONT,fontSize:31,fontWeight:'normal',color:'#000'},padding:0});

const chart=echarts.init(document.getElementById('c'),null,{renderer:'canvas',width:1660,height:1584});
chart.setOption({backgroundColor:'#fff',animation:false,title,grid,xAxis,yAxis,series});
</script></body></html>
